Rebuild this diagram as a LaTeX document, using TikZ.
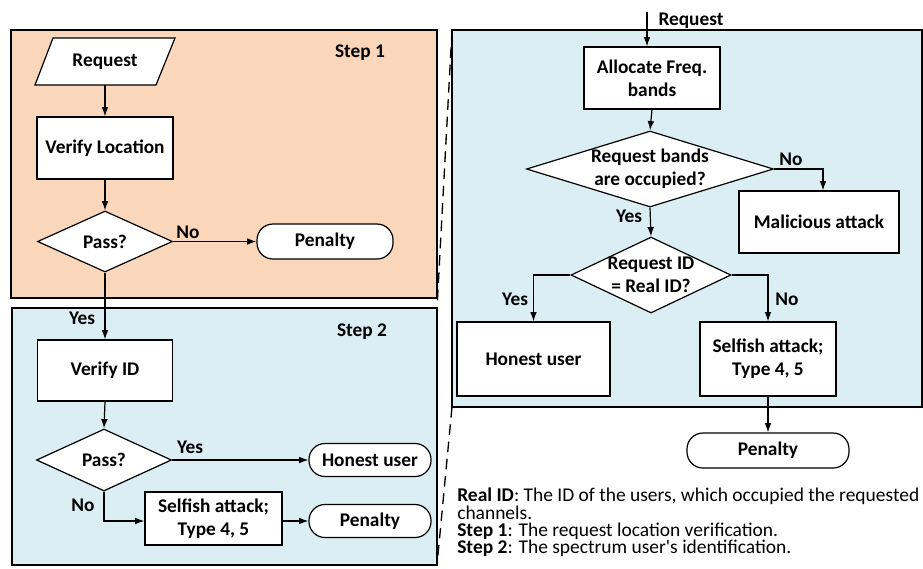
\documentclass[tikz,border=0pt]{standalone}
\usepackage{fontspec}
\setmainfont{Carlito}
\newfontfamily\carl{Carlito}
\usetikzlibrary{shapes.geometric,arrows.meta,calc}
\definecolor{peach}{HTML}{FAD6BA}
\definecolor{lblue}{HTML}{DAEEF3}
\tikzset{
  every node/.style={font=\fontsize{14.5}{17.5}\selectfont},
  box/.style={draw, line width=0.9pt, fill=white, font=\fontsize{14.5}{17.5}\selectfont\bfseries, align=center, inner sep=0pt},
  term/.style={box, rounded corners=12pt},
  dia/.style={box, diamond, aspect=2},
  lbl/.style={font=\fontsize{14.5}{17.5}\selectfont\bfseries, inner sep=0pt, align=center},
  arr/.style={line width=0.9pt, -{Latex[length=7pt,width=5pt]}},
  ln/.style={line width=0.9pt},
  panel/.style={draw, line width=0.9pt},
  dsh/.style={line width=1pt, dash pattern=on 8pt off 5pt}
}
\begin{document}
\begin{tikzpicture}[x=0.75pt,y=-0.75pt]
\useasboundingbox (0,0) rectangle (923,568);
% panels
\fill[peach] (11,30) rectangle (437,298);
\draw[panel] (11,30) rectangle (437,298);
\fill[lblue] (12,308) rectangle (437,565);
\draw[panel] (12,308) rectangle (437,565);
\fill[lblue] (452,30) rectangle (922,407);
\draw[panel] (452,30) rectangle (922,407);
\draw[dsh] (452,30) -- (437,308);
\draw[dsh] (452,407) -- (437,565);

% ---- Step 1
\node[lbl] (st1) at (360,53) {Step 1};
\draw[ln, fill=white] (53,38) -- (175,38) -- (156,85) -- (35,85) -- cycle;
\node[lbl, minimum height=35.25pt, minimum width=60pt] (req) at (105,61.5) {Request};
\node[box, minimum width=102pt, minimum height=46.5pt] (vloc) at (105,148) {Verify Location};
\node[dia, minimum width=101.25pt, minimum height=45.75pt] (pass1) at (105,241.5) {};
\node[lbl] (pass1t) at (pass1) {Pass?};
\node[term, minimum width=102pt, minimum height=26.25pt] (pen1) at (325,241.5) {Penalty};
\draw[arr] (req.south) -- (vloc.north);
\draw[arr] (vloc.south) -- (pass1.north);
\draw[arr] (pass1.east) -- (pen1.west);
\node[lbl] (no1) at (188,232) {No};

% ---- Step 2
\node[lbl] (st2) at (362,332) {Step 2};
\node[box, minimum width=101.25pt, minimum height=45.75pt] (vid) at (105,370.5) {Verify ID};
\node[dia, minimum width=101.25pt, minimum height=46.5pt] (pass2) at (104,460) {};
\node[lbl] (pass2t) at (pass2) {Pass?};
\node[term, minimum width=91.5pt, minimum height=24.75pt] (hon1) at (370,460) {Honest user};
\node[box, minimum width=102.75pt, minimum height=39.75pt] (self1) at (213.5,518.5) {Selfish attack;\\Type 4, 5};
\node[term, minimum width=91.5pt, minimum height=24.75pt] (pen2) at (370,521) {Penalty};
\draw[arr] (pass1.south) -- (vid.north);
\node[lbl] (yes1) at (82,318) {Yes};
\draw[arr] (vid.south) -- (pass2.north);
\draw[arr] (pass2.east) -- (hon1.west);
\node[lbl] (yes2) at (190,447) {Yes};
\draw[arr] (pass2.south) |- (self1.west |- pen2.west);
\node[lbl] (no2) at (83,505) {No};
\draw[arr] (self1.east |- pen2.west) -- (pen2.west);

% ---- Right panel
\coordinate (rq) at (647,12);
\node[box, minimum width=102pt, minimum height=46.5pt] (alloc) at (652,78) {Allocate Freq.\\bands};
\node[dia, minimum width=185.25pt, minimum height=57pt] (d1) at (650,169) {};
\node[lbl] (d1t) at (d1) {Request bands\\are occupied?};
\node[box, minimum width=120pt, minimum height=46.5pt] (mal) at (819,222) {Malicious attack};
\node[dia, minimum width=120pt, minimum height=57pt] (d2) at (651,275) {};
\node[lbl] (d2t) at (d2) {Request ID\\= Real ID?};
\node[box, minimum width=114.75pt, minimum height=55.5pt] (hon2) at (533.5,359) {Honest user};
\node[box, minimum width=102pt, minimum height=55.5pt] (self2) at (768,359) {Selfish attack;\\Type 4, 5};
\node[term, minimum width=121.5pt, minimum height=26.25pt] (pen3) at (768,450.5) {Penalty};
\draw[arr] (rq) -- (rq |- alloc.north);
\node[lbl] (rqt) at (691,21) {Request};
\draw[arr] (alloc.south) -- (d1.north);
\draw[arr] (d1.east) -| ([xshift=3pt]mal.north);
\node[lbl] (no3) at (791,159) {No};
\draw[arr] (d1.south) -- (d2.north);
\node[lbl] (yes3) at (629,216) {Yes};
\draw[arr] (d2.west) -| (hon2.north);
\node[lbl] (yes4) at (515,299) {Yes};
\draw[arr] (d2.east) -| (self2.north);
\node[lbl] (no4) at (787,299) {No};
\draw[arr] (self2.south) -- (pen3.north);

% ---- Notes
\node[anchor=north west, inner sep=0pt, align=left, font=\carl\fontsize{14.6}{12.8}\selectfont] (notes) at (457,488)
 {\textbf{Real ID}: The ID of the users, which occupied the requested\\
  channels.\\
  \textbf{Step 1}: The request location verification.\\
  \textbf{Step 2}: The spectrum user's identification.};
\end{tikzpicture}
\end{document}
